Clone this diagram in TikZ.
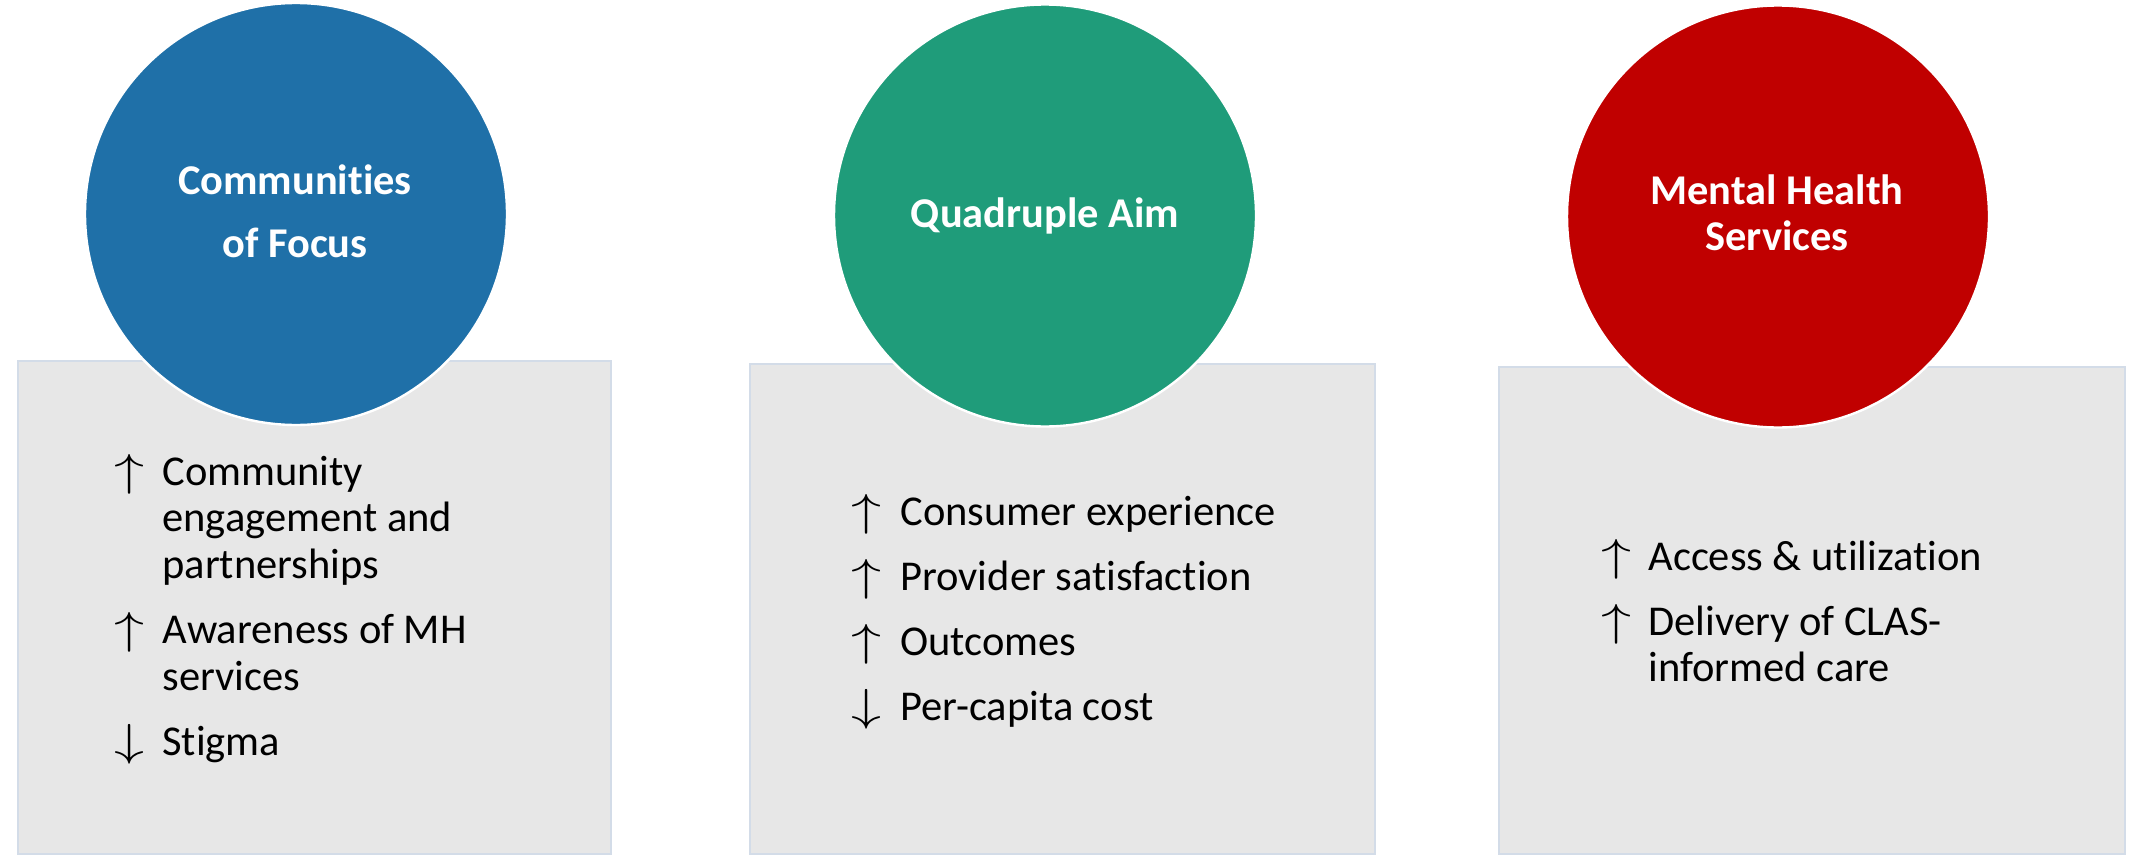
\documentclass[tikz,border=0pt]{standalone}
\usepackage{fontspec}
\setmainfont[Ligatures=NoCommon]{Carlito}
\definecolor{cblue}{RGB}{31,112,168}
\definecolor{cgreen}{RGB}{31,156,122}
\definecolor{cred}{RGB}{192,0,0}
\definecolor{boxfill}{RGB}{231,231,231}
\definecolor{boxline}{RGB}{211,220,232}
\newcommand{\upar}{\scalebox{1.45}[1.08]{$\uparrow$}}
\newcommand{\downar}{\scalebox{1.45}[1.08]{$\downarrow$}}
\begin{document}
\begin{tikzpicture}[x=0.5pt,y=-0.5pt,
  panel/.style={fill=boxfill,draw=boxline,line width=1pt},
  bubble/.style={circle,draw=white,line width=1.2pt,minimum size=211pt,inner sep=0pt},
  title/.style={anchor=base,inner sep=0pt,text=white,font=\fontsize{21.2}{25}\bfseries\selectfont},
  itemtxt/.style={anchor=base west,inner sep=0pt,font=\fontsize{21.25}{25}\selectfont},
  arr/.style={anchor=base west,inner sep=0pt,font=\fontsize{21.25}{25}\selectfont}]
\useasboundingbox (0,0) rectangle (2134,856);
% panels
\path[panel] (17.7,361) rectangle (611,854);
\path[panel] (750,364) rectangle (1374.6,854);
\path[panel] (1498.5,367) rectangle (2124.5,854);
% circles
\node[bubble,fill=cblue]  (c1) at (296,214) {};
\node[bubble,fill=cgreen] (c2) at (1045,215.5) {};
\node[bubble,fill=cred]   (c3) at (1778,216.5) {};
% titles
\node[title] (t1a) at (295,194) {Communities};
\node[title] (t1b) at (295,257.7) {of Focus};
\node[title] (t2)  at (1045,227.5) {Quadruple Aim};
\node[title] (t3a) at (1777,204) {Mental Health};
\node[title] (t3b) at (1777,250.7) {Services};
% box 1
\node[arr] (a11) at (114,485) {\upar};
\node[itemtxt] (l11) at (162,485) {Community};
\node[itemtxt] (l12) at (162,531.7) {engagement and};
\node[itemtxt] (l13) at (162,578) {partnerships};
\node[arr] (a12) at (114,643) {\upar};
\node[itemtxt] (l14) at (162,643) {Awareness of MH};
\node[itemtxt] (l15) at (162,690) {services};
\node[arr] (a13) at (114,755) {\downar};
\node[itemtxt] (l16) at (162,755) {Stigma};
% box 2
\node[arr] (a21) at (851,525) {\upar};
\node[itemtxt] (l21) at (900,525) {Consumer experience};
\node[arr] (a22) at (851,590) {\upar};
\node[itemtxt] (l22) at (900,590) {Provider satisfaction};
\node[arr] (a23) at (851,655) {\upar};
\node[itemtxt] (l23) at (900,655) {Outcomes};
\node[arr] (a24) at (851,720) {\downar};
\node[itemtxt] (l24) at (900,720) {Per-capita cost};
% box 3
\node[arr] (a31) at (1601,570) {\upar};
\node[itemtxt] (l31) at (1648,570) {Access \& utilization};
\node[arr] (a32) at (1601,635) {\upar};
\node[itemtxt] (l32) at (1648,635) {Delivery of CLAS-};
\node[itemtxt] (l33) at (1648,681.7) {informed care};
\end{tikzpicture}
\end{document}
